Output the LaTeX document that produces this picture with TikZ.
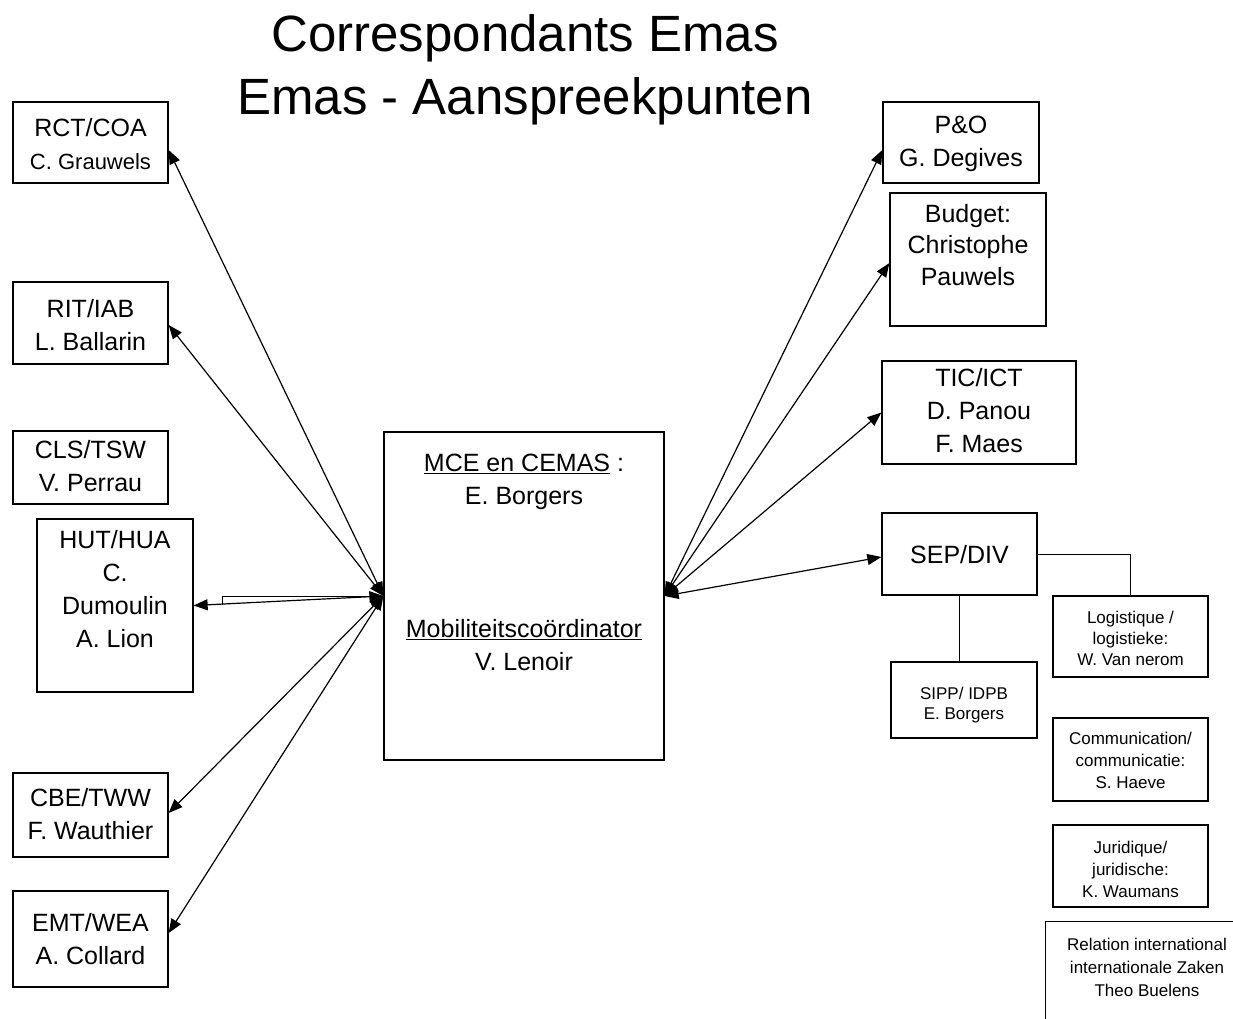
\documentclass[tikz,border=0pt]{standalone}
\usepackage{fontspec}
\setmainfont{Liberation Sans}
\usetikzlibrary{arrows.meta,calc}
\newcommand\fTitle{\fontsize{51}{63}\selectfont}
\newcommand\fBig{\fontsize{25}{33}\selectfont}
\newcommand\fMid{\fontsize{22}{33}\selectfont}
\newcommand\fSmall{\fontsize{17}{22}\selectfont}
\begin{document}
\begin{tikzpicture}[x=1pt,y=-1pt,
  box/.style={draw, line width=1.3pt, inner sep=0pt, rectangle},
  txt/.style={align=center, anchor=north, inner sep=0pt},
  arr/.style={{Triangle[length=14pt,width=11pt]}-{Triangle[length=14pt,width=11pt]}, line width=1.2pt},
  link/.style={line width=1pt}]
\useasboundingbox (0,0) rectangle (1233,1019);
\clip (0,0) rectangle (1233,1019);

% title
\node[txt, font=\fTitle] (title) at (525,14) {Correspondants Emas\\Emas - Aanspreekpunten};

% left boxes
\node[box, minimum width=155pt, minimum height=81pt] (rct) at (90.5,142.5) {};
\node[txt, font=\fBig] (rct-t) at (90.5,118) {RCT/COA\\{\fMid C. Grauwels}};
\node[box, minimum width=155pt, minimum height=82pt] (rit) at (90.5,323) {};
\node[txt, font=\fBig] (rit-t) at (90.5,299) {RIT/IAB\\L. Ballarin};
\node[box, minimum width=155pt, minimum height=73pt] (cls) at (90.5,467.5) {};
\node[txt, font=\fBig] (cls-t) at (90.5,440) {CLS/TSW\\V. Perrau};
\node[box, minimum width=156pt, minimum height=173pt] (hut) at (115,605.5) {};
\node[txt, font=\fBig] (hut-t) at (115,530) {HUT/HUA\\C.\\Dumoulin\\A. Lion};
\node[box, minimum width=155pt, minimum height=84pt] (cbe) at (90.5,815) {};
\node[txt, font=\fBig] (cbe-t) at (90.5,788) {CBE/TWW\\F. Wauthier};
\node[box, minimum width=155pt, minimum height=96pt] (emt) at (90.5,939) {};
\node[txt, font=\fBig] (emt-t) at (90.5,913) {EMT/WEA\\A. Collard};

% centre
\node[box, minimum width=280pt, minimum height=328pt] (mce) at (524,596) {};
\node[txt, font=\fBig] (mce-t1) at (524,454) {\underline{MCE en CEMAS} :\\E. Borgers};
\node[txt, font=\fBig] (mce-t2) at (524,619) {\underline{Mobiliteitscoördinator}\\V. Lenoir};

% right boxes
\node[box, minimum width=156pt, minimum height=81pt] (po) at (961,142.5) {};
\node[txt, font=\fBig] (po-t) at (961,116) {P\&O\\G. Degives};
\node[box, minimum width=156pt, minimum height=133pt] (bud) at (968,259.5) {};
\node[txt, font=\fontsize{25}{31.5}\selectfont] (bud-t) at (968,204) {Budget:\\Christophe\\Pauwels};
\node[box, minimum width=194pt, minimum height=103pt] (tic) at (979,412.5) {};
\node[txt, font=\fBig] (tic-t) at (979,368) {TIC/ICT\\D. Panou\\F. Maes};
\node[box, minimum width=155pt, minimum height=82pt] (sep) at (959.5,554) {};
\node[txt, font=\fBig] (sep-t) at (959.5,545) {SEP/DIV};
\node[box, minimum width=155pt, minimum height=81pt] (log) at (1130.5,636.5) {};
\node[txt, font=\fontsize{17}{21}\selectfont] (log-t) at (1130.5,611) {Logistique /\\logistieke:\\W. Van nerom};
\node[box, minimum width=146pt, minimum height=76pt] (sipp) at (964,700) {};
\node[txt, font=\fontsize{17}{20}\selectfont] (sipp-t) at (964,687) {SIPP/ IDPB\\E. Borgers};
\node[box, minimum width=155pt, minimum height=83pt] (comm) at (1130.5,759.5) {};
\node[txt, font=\fSmall] (comm-t) at (1130.5,732) {Communication/\\communicatie:\\S. Haeve};
\node[box, minimum width=155pt, minimum height=82pt] (jur) at (1130.5,866) {};
\node[txt, font=\fSmall] (jur-t) at (1130.5,841) {Juridique/\\juridische:\\K. Waumans};
\node[box, minimum width=215pt, minimum height=150pt, anchor=north west] (rel) at (1045,921) {};
\node[txt, font=\fontsize{17}{23}\selectfont] (rel-t) at (1147,938) {Relation international\\internationale Zaken\\Theo Buelens};

% arrows left
\draw[arr] (mce.west) -- ([yshift=-7.5pt]rct.east);
\draw[arr] (mce.west) -- ([yshift=-2pt]rit.east);
\draw[arr] (mce.west) -- (hut.east);
\coordinate (hutk) at (222,605);
\draw[line width=0.9pt] (mce.west) -| (hutk);
\draw[arr] (mce.west) -- ([yshift=2pt]cbe.east);
\draw[arr] (mce.west) -- ([yshift=6pt]emt.east);

% arrows right
\draw[arr] (mce.east) -- ([yshift=-7.5pt]po.west);
\draw[arr] (mce.east) -- ([yshift=-3.5pt]bud.west);
\draw[arr] (mce.east) -- (tic.west);
\draw[arr] (mce.east) -- ([yshift=-3pt]sep.west);

% SEP/DIV links
\draw[link] (sep.south) -- (sep.south |- sipp.north);
\draw[link] (sep.east) -| (log.north);
\end{tikzpicture}
\end{document}
